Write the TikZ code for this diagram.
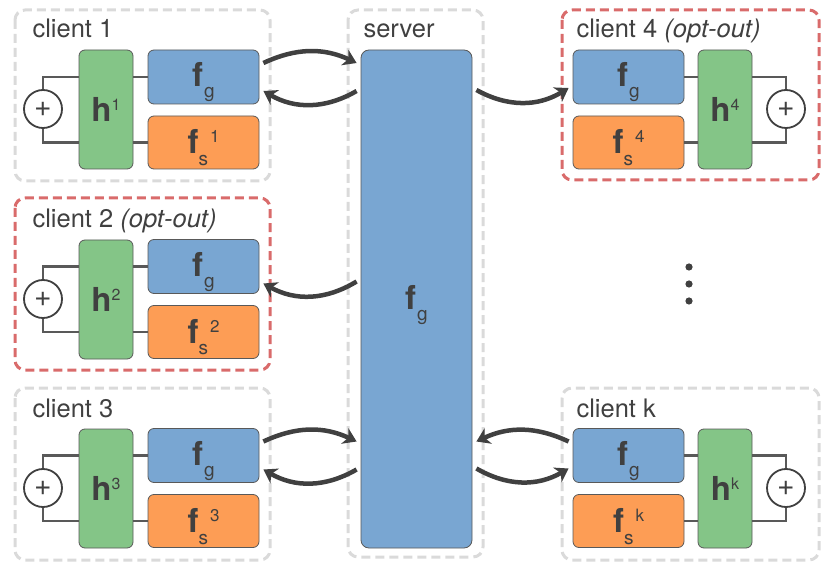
\documentclass[tikz,border=0pt]{standalone}
\usepackage{fontspec}
\setmainfont{TeX Gyre Heros}
\usepackage{tikz}
\usetikzlibrary{arrows.meta,calc}
\definecolor{ink}{HTML}{404040}
\definecolor{edge}{HTML}{595959}
\definecolor{fgblue}{HTML}{79A6D2}
\definecolor{hgreen}{HTML}{84C587}
\definecolor{fsorange}{HTML}{FD9D55}
\definecolor{lightdash}{HTML}{DADADA}
\definecolor{optred}{HTML}{D96B6B}
\newcommand{\fglab}{{\fontsize{33}{33}\selectfont\bfseries f}\kern1pt\raisebox{-11pt}{\fontsize{19}{19}\selectfont g}}
\newcommand{\fslab}[1]{{\fontsize{33}{33}\selectfont\bfseries f}\raisebox{-12pt}{\fontsize{19}{19}\selectfont s}\kern2pt\raisebox{11pt}{\fontsize{17}{17}\selectfont #1}}
\newcommand{\hlab}[1]{{\fontsize{33}{33}\selectfont\bfseries h}\raisebox{11pt}{\fontsize{16}{16}\selectfont #1}}

\begin{document}
\begin{tikzpicture}[x=1pt,y=-1pt,font=\fontsize{25.5}{28}\selectfont,text=ink,
  frame/.style={line width=3pt,dash pattern=on 9pt off 5pt,rounded corners=10pt},
  block/.style={draw=edge,line width=0.8pt,rounded corners=6pt,inner sep=0pt,text=ink},
  gbox/.style={block,fill=fgblue,minimum width=111pt,minimum height=54pt,text height=26pt,text depth=6pt},
  sbox/.style={block,fill=fsorange,minimum width=111pt,minimum height=53pt,text height=28pt,text depth=6pt},
  hbox/.style={block,fill=hgreen,minimum width=54pt,minimum height=119pt,text height=30pt,text depth=6pt},
  sum/.style={circle,draw=ink,line width=1.8pt,minimum size=38pt,inner sep=0pt,font=\fontsize{30}{30}\selectfont},
  wire/.style={draw=edge,line width=2.2pt},
  flow/.style={draw=ink,line width=4.5pt,-{Stealth[length=13pt,width=17pt,inset=4pt]}}]
  \useasboundingbox (0,0) rectangle (830,569);

  % frames
  \draw[frame,draw=lightdash] (15,10) rectangle (270,181);
  \draw[frame,draw=optred] (15,198) rectangle (270,370);
  \draw[frame,draw=lightdash] (15,388) rectangle (270,560);
  \draw[frame,draw=lightdash] (348,10) rectangle (483,557);
  \draw[frame,draw=optred] (562,10) rectangle (819,180);
  \draw[frame,draw=lightdash] (562,388) rectangle (819,560);

  % server
  \node[anchor=base west] (srvlab) at (360,38) {server};
  \node[gbox,minimum height=498pt,rounded corners=8pt] (server) at (416.5,299) {\fglab};

  % client 1
  \node[anchor=base west] (c1lab) at (29,38) {client 1};
  \node[hbox] (c1h) at (106,109.5) {\hlab{1}};
  \node[gbox] (c1fg) at (203.5,77) {\fglab};
  \node[sbox] (c1fs) at (203.5,142.5) {\fslab{1}};
  \node[sum] (c1sum) at (43,109) {+};
  \draw[wire] (c1h.west |- c1fg) -| (c1sum.north);
  \draw[wire] (c1h.west |- c1fs) -| (c1sum.south);
  \draw[wire] (c1h.east |- c1fg) -- (c1fg.west);
  \draw[wire] (c1h.east |- c1fs) -- (c1fs.west);

  % client 2
  \node[anchor=base west] (c2lab) at (29,228) {client 2 \textit{(opt-out)}};
  \node[hbox] (c2h) at (106,299.5) {\hlab{2}};
  \node[gbox] (c2fg) at (203.5,266.5) {\fglab};
  \node[sbox] (c2fs) at (203.5,332) {\fslab{2}};
  \node[sum] (c2sum) at (43,299) {+};
  \draw[wire] (c2h.west |- c2fg) -| (c2sum.north);
  \draw[wire] (c2h.west |- c2fs) -| (c2sum.south);
  \draw[wire] (c2h.east |- c2fg) -- (c2fg.west);
  \draw[wire] (c2h.east |- c2fs) -- (c2fs.west);

  % client 3
  \node[anchor=base west] (c3lab) at (29,417) {client 3};
  \node[hbox] (c3h) at (106,488.5) {\hlab{3}};
  \node[gbox] (c3fg) at (203.5,455.5) {\fglab};
  \node[sbox] (c3fs) at (203.5,521) {\fslab{3}};
  \node[sum] (c3sum) at (43,488) {+};
  \draw[wire] (c3h.west |- c3fg) -| (c3sum.north);
  \draw[wire] (c3h.west |- c3fs) -| (c3sum.south);
  \draw[wire] (c3h.east |- c3fg) -- (c3fg.west);
  \draw[wire] (c3h.east |- c3fs) -- (c3fs.west);

  % client 4
  \node[anchor=base west] (c4lab) at (573,38) {client 4 \textit{(opt-out)}};
  \node[gbox] (c4fg) at (628.5,77) {\fglab};
  \node[sbox] (c4fs) at (628.5,142.5) {\fslab{4}};
  \node[hbox] (c4h) at (725,109.5) {\hlab{4}};
  \node[sum] (c4sum) at (786,109) {+};
  \draw[wire] (c4h.east |- c4fg) -| (c4sum.north);
  \draw[wire] (c4h.east |- c4fs) -| (c4sum.south);
  \draw[wire] (c4fg.east) -- (c4h.west |- c4fg);
  \draw[wire] (c4fs.east) -- (c4h.west |- c4fs);

  % client k
  \node[anchor=base west] (cklab) at (573,417) {client k};
  \node[gbox] (ckfg) at (628.5,455.5) {\fglab};
  \node[sbox] (ckfs) at (628.5,521) {\fslab{k}};
  \node[hbox] (ckh) at (725,488.5) {\hlab{k}};
  \node[sum] (cksum) at (786,488) {+};
  \draw[wire] (ckh.east |- ckfg) -| (cksum.north);
  \draw[wire] (ckh.east |- ckfs) -| (cksum.south);
  \draw[wire] (ckfg.east) -- (ckh.west |- ckfg);
  \draw[wire] (ckfs.east) -- (ckh.west |- ckfs);

  % more clients
  \fill[ink] (689,267) circle (3.6pt);
  \fill[ink] (689,284) circle (3.6pt);
  \fill[ink] (689,301) circle (3.6pt);

  % exchange with the server
  \draw[flow] ($(c1fg.east)+(4,-14)$) to[bend left=25] ($(server.west|-c1fg.east)+(-4,-14)$);
  \draw[flow] ($(server.west|-c1fg.east)+(-4,14)$) to[bend left=30] ($(c1fg.east)+(4,14)$);
  \draw[flow] ($(server.west|-c2fg.east)+(-4,15)$) to[bend left=30] ($(c2fg.east)+(4,17)$);
  \draw[flow] ($(c3fg.east)+(4,-14)$) to[bend left=25] ($(server.west|-c3fg.east)+(-4,-14)$);
  \draw[flow] ($(server.west|-c3fg.east)+(-4,14)$) to[bend left=30] ($(c3fg.east)+(4,14)$);
  \draw[flow] ($(server.east|-c4fg.west)+(4,13)$) to[bend right=30] ($(c4fg.west)+(-4,11)$);
  \draw[flow] ($(ckfg.west)+(-4,-14)$) to[bend right=25] ($(server.east|-ckfg.west)+(4,-14)$);
  \draw[flow] ($(server.east|-ckfg.west)+(4,13)$) to[bend right=30] ($(ckfg.west)+(-4,13)$);
\end{tikzpicture}
\end{document}
